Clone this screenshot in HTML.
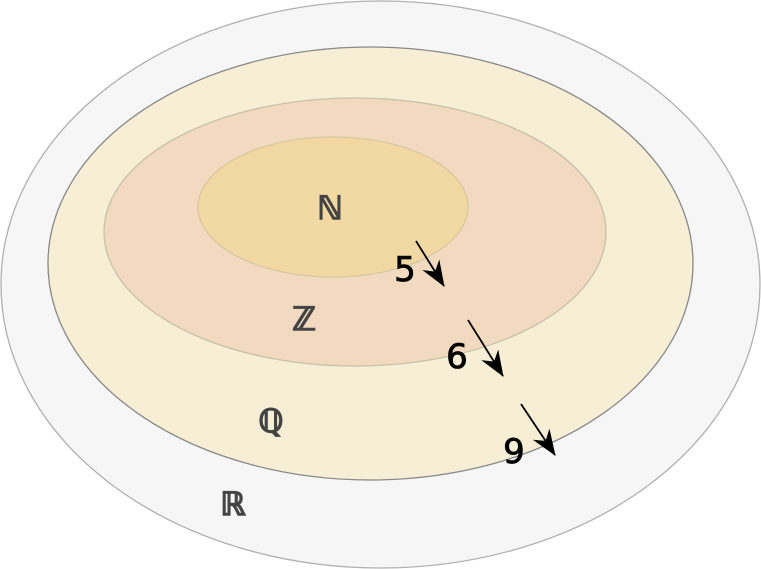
<!DOCTYPE html><html><head><style>body{margin:0;background:#fff}svg{display:block}text{font-family:"DejaVu Sans","Liberation Sans",sans-serif}</style></head><body>
<svg width="761" height="569" viewBox="0 0 761 569">
<defs><marker id="a" viewBox="0 0 26 22" refX="25" refY="11" markerWidth="26" markerHeight="22" markerUnits="userSpaceOnUse" orient="auto"><path d="M0,1 L26,11 L0,21 L8,11 Z" fill="#000"/></marker></defs>
<ellipse cx="380.5" cy="284.5" rx="379.5" ry="283.5" fill="#f6f6f6" stroke="#b0b0b0" stroke-width="1.3"/>
<ellipse cx="370.5" cy="263.5" rx="322.5" ry="216.5" fill="#f7efd5" stroke="#888" stroke-width="1.3"/>
<ellipse cx="355" cy="232" rx="251" ry="134" fill="#f2dac0" stroke="#c8c0a8" stroke-width="1.3"/>
<ellipse cx="333" cy="207" rx="135" ry="70" fill="#f2d9a3" stroke="#d8c8a0" stroke-width="1.3"/>
<g fill="#444" stroke="#444" stroke-width="1.5" font-size="32" text-anchor="middle">
<text x="330" y="219">ℕ</text><text x="304" y="330">ℤ</text><text x="271" y="432">ℚ</text><text x="233" y="515">ℝ</text></g>
<g fill="#000" stroke="#000" stroke-width="0.8" font-size="34" text-anchor="middle">
<text x="405" y="281">5</text><text x="457" y="368">6</text><text x="514" y="463">9</text></g>
<g stroke="#000" stroke-width="1.8" marker-end="url(#a)">
<line x1="416" y1="241" x2="444" y2="286"/><line x1="468" y1="320" x2="503" y2="376"/><line x1="521" y1="404" x2="555" y2="455"/></g>
</svg></body></html>
